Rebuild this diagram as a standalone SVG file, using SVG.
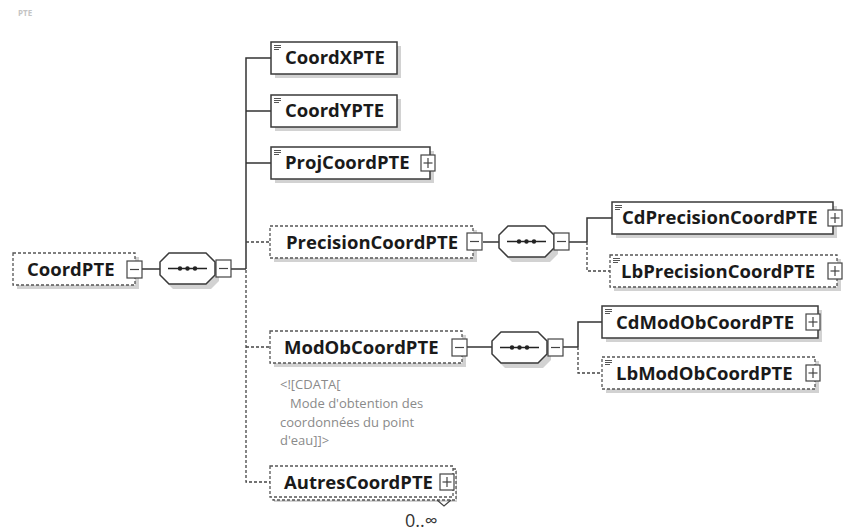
<svg xmlns="http://www.w3.org/2000/svg" xmlns:xlink="http://www.w3.org/1999/xlink" width="845" height="531" viewBox="0 0 845 531">
<style>
.box{fill:#fff;stroke:#3a3a3a;stroke-width:1.5}
.dbox{fill:#fff;stroke:#555;stroke-width:1.3;stroke-dasharray:3 2}
.sh{fill:#d2d2d2}
.lbl{font-family:"Open Sans",sans-serif;font-weight:700;font-size:18.5px;fill:#1a1a1a}
.con{stroke:#333;stroke-width:1.5;fill:none}
.dcon{stroke:#444;stroke-width:1.3;stroke-dasharray:3 2;fill:none}
.cmt{font-family:"Open Sans",sans-serif;font-size:13px;fill:#8a8a8a}
.sym{fill:#fff;stroke:#444;stroke-width:1.2}
.ln{stroke:#444;stroke-width:1.2;fill:none}
</style>
<defs>
<g id="seq">
<path class="sh" d="M13,4 H51 L59,12 V28 L51,36 H13 L5,28 V12 Z"/>
<path d="M9,0 H46 L55,9 V22 L46,31 H9 L0,22 V9 Z" fill="#fff" stroke="#3a3a3a" stroke-width="1.5"/>
<line x1="8" y1="15.5" x2="47" y2="15.5" stroke="#222" stroke-width="1.3"/>
<circle cx="20" cy="15.5" r="2.2" fill="#222"/>
<circle cx="27.5" cy="15.5" r="2.2" fill="#222"/>
<circle cx="35" cy="15.5" r="2.2" fill="#222"/>
</g>
<g id="minus">
<rect class="sym" x="0" y="0" width="15" height="17"/>
<line class="ln" x1="3" y1="8.5" x2="12" y2="8.5"/>
</g>
<g id="plus">
<rect class="sym" x="0" y="0" width="14" height="16"/>
<line class="ln" x1="2.5" y1="8" x2="11.5" y2="8"/>
<line class="ln" x1="7" y1="3" x2="7" y2="13"/>
</g>
<g id="icon">
<line x1="0" y1="0.5" x2="7" y2="0.5" stroke="#555" stroke-width="1"/>
<line x1="0" y1="2.5" x2="7" y2="2.5" stroke="#555" stroke-width="1"/>
<line x1="0" y1="4.5" x2="5" y2="4.5" stroke="#555" stroke-width="1"/>
</g>
</defs>
<rect width="845" height="531" fill="#fff"/>
<text x="18" y="16" font-family="Open Sans,sans-serif" font-size="8" font-weight="700" fill="#c4c4c4">PTE</text>

<g id="connectors">
<line class="con" x1="142" y1="269" x2="160" y2="269"/>
<line class="con" x1="231" y1="269" x2="246" y2="269"/>
<path class="con" d="M246,269 V58 H271 M246,111 H271 M246,163 H271"/>
<path class="dcon" d="M246,242 H270"/>
<path class="dcon" d="M246,270 V482 H270 M246,347 H270"/>
<line class="con" x1="483" y1="242" x2="499" y2="242"/>
<line class="con" x1="569" y1="242" x2="587" y2="242"/>
<path class="con" d="M587,242 V218 H612"/>
<path class="dcon" d="M587,242 V271 H610"/>
<line class="con" x1="467" y1="347" x2="492" y2="347"/>
<line class="con" x1="563" y1="347" x2="578" y2="347"/>
<path class="con" d="M578,347 V322 H602"/>
<path class="dcon" d="M578,347 V373 H602"/>
</g>

<g id="CoordPTE">
<rect class="sh" x="17" y="257" width="122" height="32"/>
<rect class="dbox" x="13" y="253" width="122" height="32"/>
<text class="lbl" x="27" y="276">CoordPTE</text>
<use xlink:href="#minus" x="127" y="261"/>
</g>
<g id="seq1"><use xlink:href="#seq" x="160" y="253"/><use xlink:href="#minus" x="216" y="260"/></g>

<g id="CoordXPTE">
<rect class="sh" x="275" y="46" width="126" height="32"/>
<rect class="box" x="271" y="42" width="126" height="32"/>
<use xlink:href="#icon" x="274" y="45"/>
<text class="lbl" x="285" y="64">CoordXPTE</text>
</g>
<g id="CoordYPTE">
<rect class="sh" x="275" y="99" width="126" height="32"/>
<rect class="box" x="271" y="95" width="126" height="32"/>
<use xlink:href="#icon" x="274" y="98"/>
<text class="lbl" x="285" y="117">CoordYPTE</text>
</g>
<g id="ProjCoordPTE">
<rect class="sh" x="275" y="151" width="159" height="32"/>
<rect class="box" x="271" y="147" width="159" height="32"/>
<use xlink:href="#icon" x="274" y="150"/>
<text class="lbl" x="285" y="169">ProjCoordPTE</text>
<use xlink:href="#plus" x="421" y="155"/>
</g>

<g id="PrecisionCoordPTE">
<rect class="sh" x="274" y="230" width="203" height="32"/>
<rect class="dbox" x="270" y="226" width="203" height="32"/>
<text class="lbl" x="286" y="249">PrecisionCoordPTE</text>
<use xlink:href="#minus" x="467" y="233"/>
</g>
<g id="seq2"><use xlink:href="#seq" x="499" y="226"/><use xlink:href="#minus" x="554" y="233"/></g>

<g id="CdPrecisionCoordPTE">
<rect class="sh" x="616" y="206" width="221" height="32"/>
<rect class="box" x="612" y="202" width="221" height="32"/>
<use xlink:href="#icon" x="615" y="205"/>
<text class="lbl" x="622" y="224">CdPrecisionCoordPTE</text>
<use xlink:href="#plus" x="828" y="210"/>
</g>
<g id="LbPrecisionCoordPTE">
<rect class="sh" x="614" y="259" width="227" height="32"/>
<rect class="dbox" x="610" y="255" width="227" height="32"/>
<use xlink:href="#icon" x="613" y="258"/>
<text class="lbl" x="621" y="278">LbPrecisionCoordPTE</text>
<use xlink:href="#plus" x="828" y="263"/>
</g>

<g id="ModObCoordPTE">
<rect class="sh" x="274" y="335" width="192" height="32"/>
<rect class="dbox" x="270" y="331" width="192" height="32"/>
<text class="lbl" x="284" y="354">ModObCoordPTE</text>
<use xlink:href="#minus" x="452" y="339"/>
</g>
<g id="seq3"><use xlink:href="#seq" x="492" y="332"/><use xlink:href="#minus" x="548" y="339"/></g>

<g id="CdModObCoordPTE">
<rect class="sh" x="606" y="310" width="216" height="32"/>
<rect class="box" x="602" y="306" width="216" height="32"/>
<use xlink:href="#icon" x="605" y="309"/>
<text class="lbl" x="616" y="329">CdModObCoordPTE</text>
<use xlink:href="#plus" x="806" y="314"/>
</g>
<g id="LbModObCoordPTE">
<rect class="sh" x="606" y="361" width="213" height="32"/>
<rect class="dbox" x="602" y="357" width="213" height="32"/>
<use xlink:href="#icon" x="605" y="360"/>
<text class="lbl" x="616" y="380">LbModObCoordPTE</text>
<use xlink:href="#plus" x="806" y="365"/>
</g>

<g id="comment">
<text class="cmt" x="280" y="389">&lt;![CDATA[</text>
<text class="cmt" x="290" y="408">Mode d'obtention des</text>
<text class="cmt" x="280" y="427">coordonnées du point</text>
<text class="cmt" x="280" y="445">d'eau]]&gt;</text>
</g>

<g id="AutresCoordPTE">
<rect class="sh" x="274" y="470" width="183" height="32"/>
<rect class="dbox" x="273" y="469" width="183" height="31"/>
<rect class="dbox" x="270" y="466" width="183" height="31"/>
<text class="lbl" x="284" y="489">AutresCoordPTE</text>
<use xlink:href="#plus" x="440" y="474"/>
<polyline points="437,500 444,506 451,500" fill="none" stroke="#444" stroke-width="1.2"/>
<text x="405" y="527" font-family="Open Sans,sans-serif" font-size="18" fill="#333">0..∞</text>
</g>
</svg>
